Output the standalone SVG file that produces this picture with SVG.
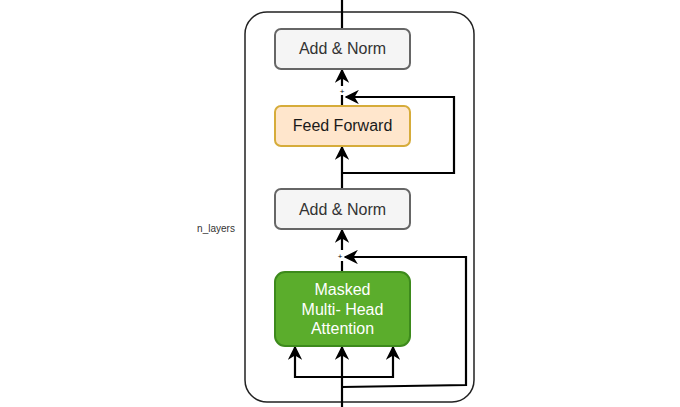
<svg xmlns="http://www.w3.org/2000/svg" width="680" height="407" viewBox="0 0 680 407">
<defs>
<marker id="ah" viewBox="0 0 10 10" refX="9" refY="5" markerWidth="6.5" markerHeight="6.5" orient="auto" markerUnits="strokeWidth">
<path d="M0,0 L10,5 L0,10 L3,5 Z" fill="#000"/>
</marker>
</defs>
<style>
.lbl{font-family:"Liberation Sans",Arial,sans-serif;font-size:16px;text-anchor:middle;dominant-baseline:central}
.ln{fill:none;stroke:#000;stroke-width:2.2}
.arr{fill:none;stroke:#000;stroke-width:2.2;marker-end:url(#ah)}
.norm{fill:#f5f5f5;stroke:#666;stroke-width:2}
</style>
<rect width="680" height="407" fill="#fff"/>
<g id="container">
<rect x="245" y="12" width="229" height="390" rx="22" fill="none" stroke="#222" stroke-width="1.5"/>
</g>
<text x="216" y="228" font-family="Liberation Sans,Arial,sans-serif" font-size="10" fill="#333" text-anchor="middle" dominant-baseline="central">n_layers</text>
<g id="connectors">
<line class="ln" x1="342" y1="0" x2="342" y2="29"/>
<line class="arr" x1="342" y1="86" x2="342" y2="70"/>
<line class="ln" x1="342" y1="106" x2="342" y2="95"/>
<polyline class="arr" points="342,173 454,173 454,97 346,97"/>
<line class="arr" x1="342" y1="189" x2="342" y2="147"/>
<line class="arr" x1="342" y1="250" x2="342" y2="230"/>
<line class="ln" x1="342" y1="272" x2="342" y2="261"/>
<polyline class="arr" points="342,387 466,385 466,257 345,257"/>
<line class="arr" x1="342" y1="407" x2="342" y2="347"/>
<polyline class="arr" points="342,377 295,377 295,347"/>
<polyline class="arr" points="342,377 393,377 393,347"/>
<text x="342" y="91" font-family="Liberation Sans,Arial,sans-serif" font-size="8" text-anchor="middle" dominant-baseline="central">+</text>
<text x="340" y="256" font-family="Liberation Sans,Arial,sans-serif" font-size="8" text-anchor="middle" dominant-baseline="central">+</text>
</g>
<g id="addnorm2">
<rect class="norm" x="275" y="29" width="135" height="40" rx="6"/>
<text class="lbl" x="342.5" y="48" fill="#333">Add &amp; Norm</text>
</g>
<g id="feedforward">
<rect x="275" y="106" width="135" height="40" rx="6" fill="#ffe6cc" stroke="#d6ac3a" stroke-width="2"/>
<text class="lbl" x="342.5" y="125" fill="#1a1a1a">Feed Forward</text>
</g>
<g id="addnorm1">
<rect class="norm" x="275" y="189" width="135" height="40" rx="6"/>
<text class="lbl" x="342.5" y="209" fill="#333">Add &amp; Norm</text>
</g>
<g id="mha">
<rect x="275" y="272" width="135" height="74" rx="10" fill="#5bad2c" stroke="#3d8a1c" stroke-width="2"/>
<text class="lbl" x="342.5" y="289" fill="#fff">Masked</text>
<text class="lbl" x="342.5" y="309" fill="#fff">Multi- Head</text>
<text class="lbl" x="342.5" y="328" fill="#fff">Attention</text>
</g>
</svg>
